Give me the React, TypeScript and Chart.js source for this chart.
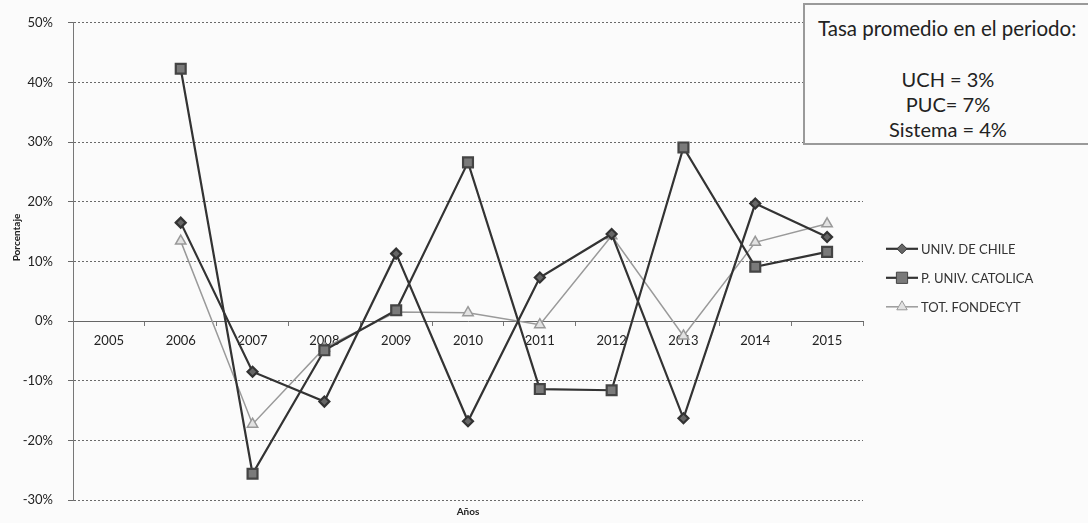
import React, { useEffect, useRef } from "react";
import { Chart, registerables } from "chart.js";

Chart.register(...registerables);

const years = ["2005", "2006", "2007", "2008", "2009", "2010", "2011", "2012", "2013", "2014", "2015"];
const uchValues = [null, 16.5, -8.5, -13.5, 11.3, -16.8, 7.3, 14.6, -16.3, 19.7, 14.1];
const pucValues = [null, 42.3, -25.6, -4.9, 1.8, 26.6, -11.4, -11.6, 29.1, 9.1, 11.6];
const fondecytValues = [null, 13.4, -17.3, -4.5, 1.5, 1.4, -0.6, 14.3, -2.5, 13.2, 16.3];
const seriesNames = ["UNIV. DE CHILE", "P. UNIV. CATOLICA", "TOT. FONDECYT"];
const yTicks = [-30, -20, -10, 0, 10, 20, 30, 40, 50];
const boxTitle = "Tasa promedio en el periodo:";
const boxLines = ["UCH = 3%", "PUC= 7%", "Sistema = 4%"];

const FONT = "Lato, 'Open Sans', sans-serif";

const overlayPlugin = {
  id: "overlay",
  afterDraw(chart: any) {
    const { ctx, chartArea } = chart;
    ctx.save();
    // axis titles
    ctx.fillStyle = "#222";
    ctx.font = `bold 10px ${FONT}`;
    ctx.textAlign = "center";
    ctx.textBaseline = "middle";
    ctx.fillText("Años", (chartArea.left + chartArea.right) / 2, chartArea.bottom + 12);
    ctx.translate(17, chartArea.top + (chartArea.bottom - chartArea.top) * 0.45);
    ctx.rotate(-Math.PI / 2);
    ctx.fillText("Porcentaje", 0, 0);
    ctx.restore();

    // legend
    ctx.save();
    const lx = chartArea.right + 23;
    const ly0 = chartArea.top + 226;
    chart.data.datasets.forEach((ds: any, i: number) => {
      const y = ly0 + i * 29;
      ctx.strokeStyle = ds.borderColor;
      ctx.lineWidth = ds.borderWidth;
      ctx.beginPath();
      ctx.moveTo(lx, y);
      ctx.lineTo(lx + 32, y);
      ctx.stroke();
      const cx = lx + 16;
      ctx.fillStyle = ds.pointBackgroundColor;
      ctx.strokeStyle = ds.pointBorderColor;
      ctx.lineWidth = 1;
      const r = ds.pointRadius;
      ctx.beginPath();
      if (ds.pointStyle === "rectRot") {
        ctx.moveTo(cx, y - r);
        ctx.lineTo(cx + r, y);
        ctx.lineTo(cx, y + r);
        ctx.lineTo(cx - r, y);
        ctx.closePath();
      } else if (ds.pointStyle === "rect") {
        ctx.rect(cx - r * 0.8, y - r * 0.8, r * 1.6, r * 1.6);
      } else {
        ctx.moveTo(cx, y - r);
        ctx.lineTo(cx + r * 0.87, y + r * 0.5);
        ctx.lineTo(cx - r * 0.87, y + r * 0.5);
        ctx.closePath();
      }
      ctx.fill();
      ctx.stroke();
      ctx.fillStyle = "#333";
      ctx.font = `13px ${FONT}`;
      ctx.textAlign = "left";
      ctx.textBaseline = "middle";
      ctx.fillText(ds.label, lx + 35, y + 1);
    });
    ctx.restore();
  },
};

export default function App() {
  const canvasRef = useRef<HTMLCanvasElement | null>(null);

  useEffect(() => {
    const canvas = canvasRef.current;
    if (!canvas) return;
    const chart = new Chart(canvas, {
      type: "line",
      data: {
        labels: years,
        datasets: [
          {
            label: seriesNames[0],
            data: uchValues,
            borderColor: "#333333",
            borderWidth: 2.2,
            pointStyle: "rectRot",
            pointRadius: 5,
            pointBackgroundColor: "#666666",
            pointBorderColor: "#333333",
            tension: 0,
          },
          {
            label: seriesNames[1],
            data: pucValues,
            borderColor: "#333333",
            borderWidth: 2.2,
            pointStyle: "rect",
            pointRadius: 7,
            pointBackgroundColor: "#7a7a7a",
            pointBorderColor: "#444444",
            tension: 0,
          },
          {
            label: seriesNames[2],
            data: fondecytValues,
            borderColor: "#9a9a9a",
            borderWidth: 1.5,
            pointStyle: "triangle",
            pointRadius: 6,
            pointBackgroundColor: "#e2e2e2",
            pointBorderColor: "#999999",
            tension: 0,
          },
        ],
      },
      options: {
        animation: false,
        responsive: true,
        maintainAspectRatio: false,
        spanGaps: false,
        layout: { padding: { left: 0, right: 225, top: 22, bottom: 23 } },
        plugins: {
          legend: { display: false },
          tooltip: { enabled: false },
          title: { display: false },
        },
        scales: {
          x: {
            type: "category",
            position: { y: 0 } as any,
            offset: true,
            grid: {
              display: true,
              drawOnChartArea: false,
              drawTicks: true,
              tickLength: 4,
              offset: true,
              color: "#777",
            },
            border: { display: true, color: "#666" },
            ticks: {
              color: "#222",
              font: { family: FONT, size: 13 },
              padding: 8,
              maxRotation: 0,
              autoSkip: false,
            },
          },
          y: {
            type: "linear",
            position: "left",
            min: -30,
            max: 50,
            afterFit(scale: any) {
              scale.width = 73;
            },
            afterBuildTicks(scale: any) {
              scale.ticks = yTicks.map((v) => ({ value: v }));
            },
            grid: {
              color: "#6a6a6a",
              lineWidth: 1,
              tickLength: 5,
              drawTicks: true,
            },
            border: { display: true, color: "#777", dash: [2, 2] },
            ticks: {
              color: "#222",
              font: { family: FONT, size: 13 },
              padding: 15,
              callback: (v: any) => `${v}%`,
            },
          },
        },
      },
      plugins: [overlayPlugin],
    });
    return () => chart.destroy();
  }, []);

  return (
    <div
      style={{
        position: "absolute",
        left: 0,
        top: 0,
        width: 1088,
        height: 523,
        overflow: "hidden",
        background: "#fbfbfb",
      }}
    >
      <canvas ref={canvasRef} style={{ position: "absolute", left: 0, top: 0 }} />
      <div
        style={{
          position: "absolute",
          left: 803,
          top: 3,
          width: 300,
          height: 142,
          border: "2px solid #9a9a9a",
          background: "#fbfbfb",
          fontFamily: FONT,
          color: "#222",
          boxSizing: "border-box",
        }}
      >
        <div style={{ position: "absolute", left: 13, top: 11, fontSize: 20.5, whiteSpace: "nowrap" }}>{boxTitle}</div>
        <div
          style={{
            position: "absolute",
            left: 0,
            width: 286,
            top: 62,
            fontSize: 20,
            lineHeight: "25px",
            textAlign: "center",
          }}
        >
          {boxLines.map((l) => (
            <div key={l}>{l}</div>
          ))}
        </div>
      </div>
    </div>
  );
}
